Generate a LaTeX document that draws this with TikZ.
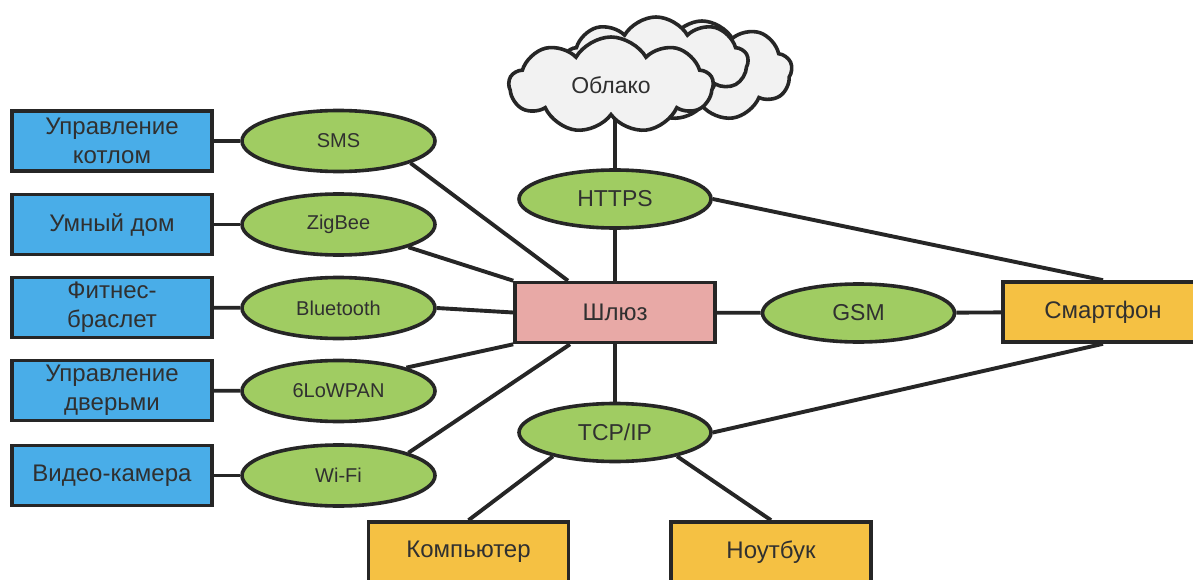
\documentclass[tikz,border=0pt]{standalone}
\usepackage{fontspec}
\setmainfont{Liberation Sans}
\usetikzlibrary{shapes.geometric,shapes.symbols,backgrounds,calc}
\definecolor{devfill}{HTML}{49ADE8}
\definecolor{protofill}{HTML}{A0CC62}
\definecolor{hubfill}{HTML}{E8A9A6}
\definecolor{clientfill}{HTML}{F5C143}
\definecolor{ink}{HTML}{262626}
\definecolor{txt}{HTML}{303030}
\definecolor{vapor}{HTML}{F2F2F2}
\begin{document}
\begin{tikzpicture}[x=1pt,y=-1pt,
  every node/.style={text=txt},
  link/.style={draw=ink, line width=3.9pt},
  boxbase/.style={rectangle, draw=ink, line width=3.6pt, minimum width=200pt,
    minimum height=60pt, inner sep=0pt, align=center,
    font=\fontsize{24}{29}\selectfont},
  devbox/.style={boxbase, fill=devfill},
  hubbox/.style={boxbase, fill=hubfill},
  clientbox/.style={boxbase, fill=clientfill},
  proto/.style={ellipse, draw=ink, line width=3.6pt, fill=protofill,
    minimum width=193pt, minimum height=61pt, inner sep=0pt,
    font=\fontsize{20}{24}\selectfont},
  coreproto/.style={proto, minimum width=192pt, minimum height=58pt,
    font=\fontsize{23}{27}\selectfont},
  puff/.style={cloud, cloud puffs=9, cloud puff arc=120, aspect=1.9,
    draw=ink, line width=3.6pt, fill=vapor, inner sep=0pt}
]
\path[use as bounding box] (0,0) rectangle (1193,580);
\clip (0,0) rectangle (1193,580);

% cloud stack
\node[puff, minimum width=180pt, minimum height=100pt] (cloudc) at (702,71) {};
\node[puff, minimum width=184pt, minimum height=90pt] (cloudb) at (656,62) {};
\node[puff, minimum width=204pt, minimum height=96pt,
      font=\fontsize{23}{27}\selectfont] (cloud) at (611,85) {Облако};

% end devices
\node[devbox] (boiler) at (112,141)   {Управление\\котлом};
\node[devbox] (home)   at (112,224.5) {Умный дом};
\node[devbox] (fit)    at (112,307.5) {Фитнес-\\браслет};
\node[devbox] (doors)  at (112,390.5) {Управление\\дверьми};
\node[devbox] (cam)    at (112,475.5) {Видео-камера};

% device protocols
\node[proto] (sms)  at (338.5,141)   {SMS};
\node[proto] (zig)  at (338.5,224.5) {ZigBee};
\node[proto] (bt)   at (338.5,308)   {Bluetooth};
\node[proto] (lo)   at (338.5,391)   {6LoWPAN};
\node[proto] (wifi) at (338.5,475.5) {Wi-Fi};

% gateway and uplinks
\node[hubbox] (gw) at (615,312.5) {Шлюз};
\node[coreproto] (https) at (615,199)   {HTTPS};
\node[coreproto] (gsm)   at (858.5,313) {GSM};
\node[coreproto] (tcp)   at (615,432.5) {TCP/IP};

% clients
\node[clientbox] (phone) at (1103,312)  {Смартфон};
\node[clientbox] (pc)    at (468.5,552) {Компьютер};
\node[clientbox] (nb)    at (771,552)   {Ноутбук};

\begin{scope}[on background layer]
  \fill[white] (0,0) rectangle (1193,580);
  % device to protocol
  \draw[link] (boiler) -- (sms);
  \draw[link] (home) -- (zig);
  \draw[link] (fit) -- (bt);
  \draw[link] (doors) -- (lo);
  \draw[link] (cam) -- (wifi);
  % protocol to gateway
  \draw[link] (sms.-17) -- ($(gw.north)+(-47,0)$);
  \draw[link] (zig.-18) -- (gw.north west);
  \draw[link] (bt.east) -- (gw.west);
  \draw[link] (lo.19) -- (gw.south west);
  \draw[link] (wifi.18) -- ($(gw.south)+(-45,0)$);
  % gateway uplinks
  \draw[link] (https.north |- cloud.south) -- (https.north);
  \draw[link] (https) -- (gw);
  \draw[link] (gw) -- (gsm);
  \draw[link] (gsm) -- (phone);
  \draw[link] (gw) -- (tcp);
  \draw[link] (https.east) -- (phone.north);
  \draw[link] (tcp.east) -- (phone.south);
  \draw[link] (tcp.201) -- (pc.north);
  \draw[link] (tcp.-21) -- (nb.north);
\end{scope}
\end{tikzpicture}
\end{document}
